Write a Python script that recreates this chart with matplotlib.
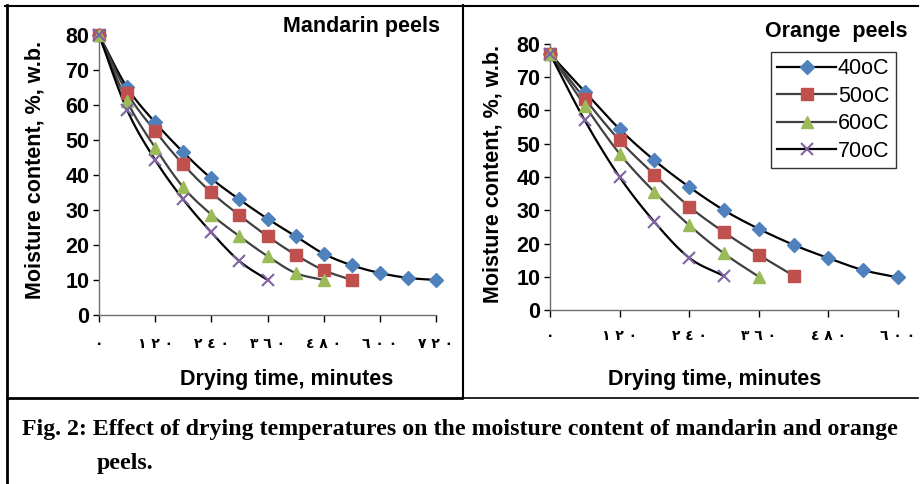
import numpy as np
import matplotlib
matplotlib.use('Agg')
import matplotlib.pyplot as plt
from matplotlib.lines import Line2D

plt.rcParams['font.family'] = ['Liberation Sans', 'DejaVu Sans']

# drying time (min) and moisture content (% w.b.)
t_mand = [0, 60, 120, 180, 240, 300, 360, 420, 480, 540, 600, 660, 720]
mand_40 = [80, 65, 55, 46.5, 39, 33, 27.5, 22.5, 17.5, 14.2, 12, 10.6, 10]
mand_50 = [80, 63.5, 52.5, 43, 35, 28.5, 22.5, 17.2, 12.8, 10]
mand_60 = [80, 61, 47.8, 36.5, 28.7, 22.5, 16.8, 12, 10]
mand_70 = [80, 58.6, 44.3, 33, 23.6, 15.4, 10]

t_orng = [0, 60, 120, 180, 240, 300, 360, 420, 480, 540, 600]
orng_40 = [77, 65.6, 54.4, 45, 37, 30, 24.4, 19.6, 15.6, 12, 9.8]
orng_50 = [77, 63.5, 51, 40.7, 31.1, 23.4, 16.6, 10.3]
orng_60 = [77, 61.5, 47, 35.5, 25.5, 17, 10]
orng_70 = [77, 57, 40, 26.5, 15.7, 10.2]

labels = ['40oC', '50oC', '60oC', '70oC']
marker_list = ['D', 's', '^', 'x']
marker_cols = ['#4F81BD', '#C0504D', '#9BBB59', '#8064A2']
line_cols = ['#000000', '#404040', '#404040', '#000000']
msizes = [7.5, 9, 8.5, 8]

x_ticks = [0, 120, 240, 360, 480, 600, 720]
x_ticklabels = ['٠', '١ ٢ ٠', '٢ ٤ ٠', '٣ ٦ ٠', '٤ ٨ ٠', '٦ ٠ ٠', '٧ ٢ ٠']


def smooth(x, y, n=20):
    # catmull-rom style curve through the points, like excel "smoothed line"
    x = np.asarray(x, float)
    y = np.asarray(y, float)
    px = np.concatenate([[2 * x[0] - x[1]], x, [2 * x[-1] - x[-2]]])
    py = np.concatenate([[2 * y[0] - y[1]], y, [2 * y[-1] - y[-2]]])
    xs, ys = [], []
    s = np.linspace(0, 1, n)
    for i in range(1, len(px) - 2):
        p0, p1, p2, p3 = [np.array([px[j], py[j]]) for j in range(i - 1, i + 3)]
        m1 = (p2 - p0) / 2
        m2 = (p3 - p1) / 2
        h00 = 2 * s**3 - 3 * s**2 + 1
        h10 = s**3 - 2 * s**2 + s
        h01 = -2 * s**3 + 3 * s**2
        h11 = s**3 - s**2
        pts = np.outer(h00, p1) + np.outer(h10, m1) + np.outer(h01, p2) + np.outer(h11, m2)
        xs.extend(pts[:, 0])
        ys.extend(pts[:, 1])
    return xs, ys


def draw_panel(ax, t, series, xmax, xpad, xlab_xy, ylab_xy):
    for k, yv in enumerate(series):
        tx = t[:len(yv)]
        sx, sy = smooth(tx, yv)
        ax.plot(sx, sy, color=line_cols[k], lw=1.6, zorder=2, clip_on=False)
        if marker_list[k] == 'x':
            ax.plot(tx, yv, ls='none', marker='x', ms=msizes[k], mew=1.5,
                    color=marker_cols[k], zorder=3, clip_on=False)
        else:
            ax.plot(tx, yv, ls='none', marker=marker_list[k], ms=msizes[k],
                    mfc=marker_cols[k], mec=marker_cols[k], zorder=3, clip_on=False)
    ax.set_xlim(0, xmax)
    ax.set_ylim(0, 80)
    xt = [v for v in x_ticks if v <= xmax]
    ax.set_xticks(xt)
    ax.set_xticklabels(x_ticklabels[:len(xt)], family=['DejaVu Sans'],
                       fontsize=10, fontweight='bold')
    ax.set_yticks(range(0, 81, 10))
    ax.tick_params(axis='x', direction='out', length=5, width=1, pad=xpad, colors='black')
    ax.tick_params(axis='y', direction='out', length=4, width=1, pad=3, labelsize=15.5)
    for lab in ax.get_yticklabels():
        lab.set_fontweight('bold')
    for s in ['top', 'right']:
        ax.spines[s].set_visible(False)
    for s in ['left', 'bottom']:
        ax.spines[s].set_color('#6e6e6e')
        ax.spines[s].set_linewidth(1)
    ax.set_xlabel('Drying time, minutes', fontsize=15.5, fontweight='bold', va='center')
    ax.set_ylabel('Moisture content, %, w.b.', fontsize=15.5, fontweight='bold', va='center')
    ax.xaxis.set_label_coords(*xlab_xy)
    ax.yaxis.set_label_coords(*ylab_xy)


fig = plt.figure(figsize=(9.21, 4.84), dpi=100)

ax1 = fig.add_axes([0.1075, 0.3492, 0.3659, 0.5785])
draw_panel(ax1, t_mand, [mand_40, mand_50, mand_60, mand_70], 720, 10.8,
           (0.558, -0.229), (-0.19, 0.518))
fig.text(440 / 921, 1 - 16 / 484, 'Mandarin peels', ha='right', va='top',
         fontsize=15.5, fontweight='bold')

ax2 = fig.add_axes([0.5972, 0.3595, 0.3778, 0.5496])
draw_panel(ax2, t_orng, [orng_40, orng_50, orng_60, orng_70], 600, 8.7,
           (0.474, -0.263), (-0.164, 0.511))
fig.text(907 / 921, 1 - 21 / 484, 'Orange  peels', ha='right', va='top',
         fontsize=15.5, fontweight='bold')

handles = [Line2D([0], [0], color=line_cols[k], lw=1.6, marker=marker_list[k],
                  ms=msizes[k], mfc=marker_cols[k], mec=marker_cols[k],
                  mew=1.5 if marker_list[k] == 'x' else 1)
           for k in range(4)]
leg = fig.legend(handles, labels, loc='upper left', bbox_to_anchor=(771 / 921, 1 - 52 / 484),
                 frameon=True, fancybox=False, fontsize=15.5, handlelength=2.7,
                 handletextpad=0.1, labelspacing=0.3, borderpad=0.3, borderaxespad=0)
leg.get_frame().set_edgecolor('black')
leg.get_frame().set_linewidth(1)

# frame lines of the figure table
def fline(x, y, lw):
    fig.add_artist(Line2D([v / 921 for v in x], [1 - v / 484 for v in y],
                          color='black', lw=lw))

fline([5, 918], [5.5, 5.5], 1.5)
fline([7, 7], [5, 484], 2)
fline([462.5, 462.5], [5, 398], 1.5)
fline([7, 462], [398, 398], 2)
fline([462, 918], [398, 398], 1.2)

fig.text(22 / 921, 1 - 435 / 484, 'Fig. 2: Effect of drying temperatures on the moisture content of mandarin and orange',
         family='Liberation Serif', fontweight='bold', fontsize=17.2, va='baseline')
fig.text(97 / 921, 1 - 469 / 484, 'peels.', family='Liberation Serif', fontweight='bold',
         fontsize=17.2, va='baseline')

fig.savefig('out.png', dpi=100)
